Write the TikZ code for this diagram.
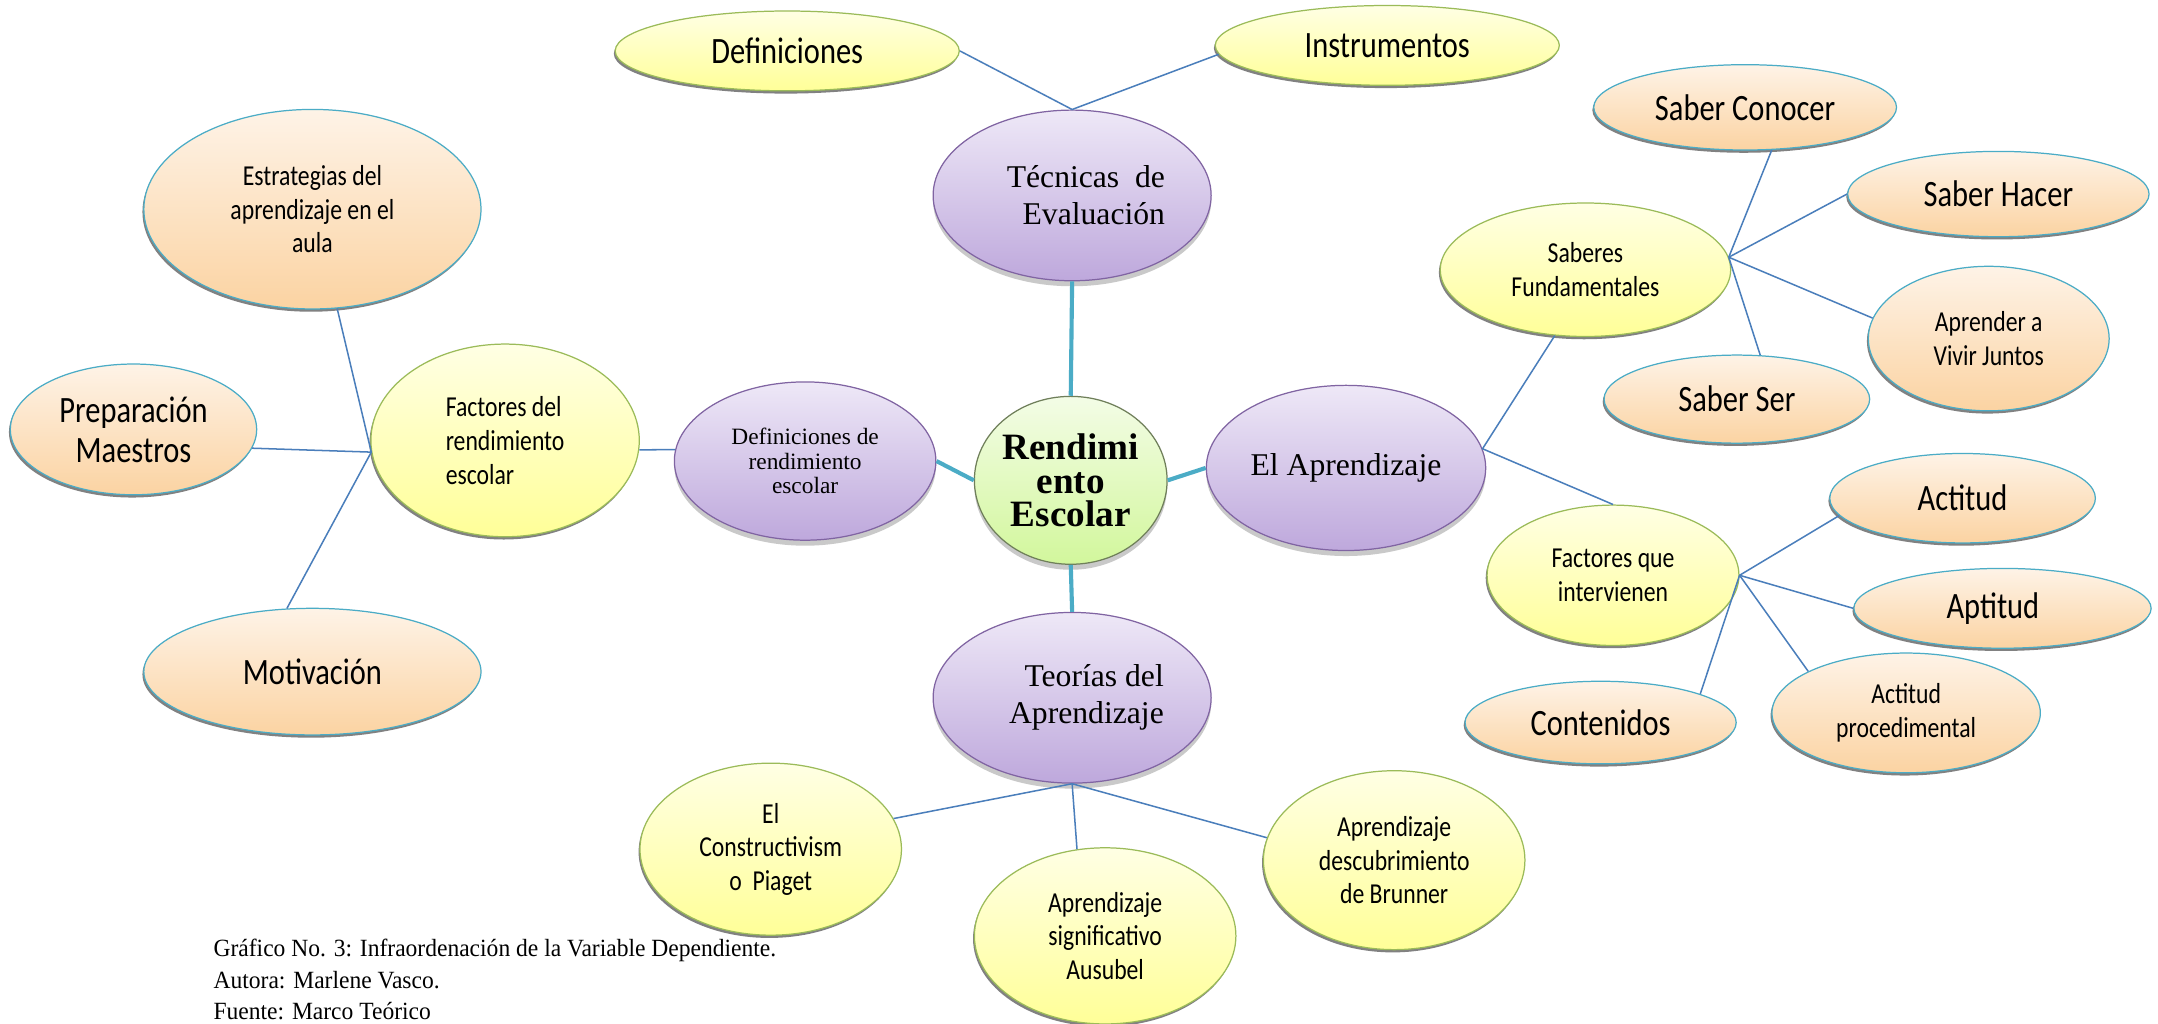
\documentclass[tikz,border=0pt]{standalone}
\usepackage{fontspec}
\setmainfont{Liberation Serif}
\newfontfamily\cf{Carlito}[FakeStretch=0.82]
\newfontfamily\capf{Liberation Serif}[FakeStretch=0.95]
\usetikzlibrary{shapes.geometric,shadows}
\definecolor{ylborder}{HTML}{9BBB59}
\definecolor{yltop}{HTML}{FFFFE4}
\definecolor{ylbot}{HTML}{FFFF98}
\definecolor{orborder}{HTML}{4BACC6}
\definecolor{ortop}{HTML}{FEF3E7}
\definecolor{orbot}{HTML}{FBD3A2}
\definecolor{puborder}{HTML}{8064A2}
\definecolor{putop}{HTML}{EEE8F7}
\definecolor{pubot}{HTML}{BEA8DC}
\definecolor{ceborder}{HTML}{6F7F5A}
\definecolor{cetop}{HTML}{F3FCE6}
\definecolor{cebot}{HTML}{D2F79C}
\definecolor{thinline}{HTML}{4A7EBB}
\definecolor{thickline}{HTML}{4BACC6}
\tikzset{
  base/.style={ellipse, inner sep=0pt, align=center, text=black, line width=0.9pt},
  sz/.style 2 args={minimum width=#1pt, minimum height=#2pt},
  yel/.style={base, draw=ylborder, top color=yltop, bottom color=ylbot,
    drop shadow={shadow xshift=-1pt, shadow yshift=-2pt, fill=black!70, opacity=0.7}},
  ora/.style={base, draw=orborder, top color=ortop, bottom color=orbot,
    drop shadow={shadow xshift=-1pt, shadow yshift=-2pt, fill=black!70, opacity=0.7}},
  pur/.style={base, draw=puborder, top color=putop, bottom color=pubot,
    drop shadow={shadow xshift=0pt, shadow yshift=-4pt, fill=black!35, opacity=0.6}},
  censt/.style={base, draw=ceborder, top color=cetop, bottom color=cebot,
    drop shadow={shadow xshift=0pt, shadow yshift=-4pt, fill=black!35, opacity=0.6}},
  big/.style={font=\cf\fontsize{27}{29}\selectfont},
  sm/.style={font=\cf\fontsize{21}{24.5}\selectfont},
  ser/.style={font=\fontsize{23}{27}\selectfont},
  thin1/.style={draw=thinline, line width=1.1pt},
  thick1/.style={draw=thickline, line width=3pt},
}
\begin{document}
\begin{tikzpicture}[x=1pt,y=-1pt]
\useasboundingbox[fill=white] (0,0) rectangle (1568,744);
% top
\node[yel,sz={250}{58},big] (defi) at (572,37) {Definiciones};
\node[yel,sz={250}{58},big] (instr) at (1008,33) {Instrumentos};
\node[pur,sz={202}{124},ser,align=right] (tec) at (779,142) {\hspace*{20pt}Técnicas\ \ de\\Evaluación};
% centre
\node[censt,sz={140}{122},font=\bfseries\fontsize{27}{24.5}\selectfont] (cen) at (778,349) {Rendimi\\ento\\Escolar};
% bottom
\node[pur,sz={202}{124},ser,align=right] (teo) at (779,507) {\hspace*{32pt}Teorías del\\Aprendizaje};
\node[yel,sz={190}{125},sm] (cons) at (560,617) {El\\Constructivism\\o\ \ Piaget};
\node[yel,sz={190}{128},sm] (ausu) at (803,680) {Aprendizaje\\significativo\\Ausubel};
\node[yel,sz={190}{130},sm] (brun) at (1013,625) {Aprendizaje\\descubrimiento\\de Brunner};
% left
\node[pur,sz={190}{115},font=\fontsize{17}{18}\selectfont] (defr) at (585,335) {Definiciones de\\rendimiento\\escolar};
\node[yel,sz={195}{140},sm,align=left] (facr) at (367,320) {Factores del\\rendimiento\hspace*{26pt}\\escolar};
\node[ora,sz={245}{145},sm] (estr) at (227,152) {Estrategias del\\aprendizaje en el\\aula};
\node[ora,sz={179}{95},big] (prep) at (97,312) {Preparación\\Maestros};
\node[ora,sz={245}{92},big] (moti) at (227,488) {Motivación};
% right
\node[pur,sz={203}{120},ser] (apr) at (978,340) {El Aprendizaje};
\node[yel,sz={211}{97},sm] (sabf) at (1152,196) {Saberes\\Fundamentales};
\node[ora,sz={220}{62},big] (scon) at (1268,78) {Saber Conocer};
\node[ora,sz={219}{62},big] (shac) at (1452,141) {Saber Hacer};
\node[ora,sz={175}{105},sm] (aviv) at (1445,246) {Aprender a\\Vivir Juntos};
\node[ora,sz={193}{64},big] (sser) at (1262,290) {Saber Ser};
\node[yel,sz={183}{102},sm] (fint) at (1172,418) {Factores que\\intervienen};
\node[ora,sz={193}{65},big] (acti) at (1426,362) {Actitud};
\node[ora,sz={216}{58},big] (apti) at (1455,442) {\hspace*{0pt}Aptitud\hspace*{14pt}};
\node[ora,sz={197}{60},big] (cont) at (1163,525) {Contenidos};
\node[ora,sz={195}{87},sm] (aproc) at (1385,518) {Actitud\\procedimental};
% caption
\node[anchor=north west, align=left, inner sep=0pt, font=\capf\fontsize{18}{23}\selectfont] (cap) at (155,682)
  {Gráfico No. 3: Infraordenación de la Variable Dependiente.\\Autora: Marlene Vasco.\\Fuente: Marco Teórico};
% thick connectors
\draw[thick1] (tec.south) -- (cen.north);
\draw[thick1] (cen.south) -- (teo.north);
\draw[thick1] (cen.west) -- (defr.east);
\draw[thick1] (cen.east) -- (apr.west);
% thin connectors
\draw[thin1] (defi.east) -- (tec.north) -- (instr.183);
\draw[thin1] (facr.-4) -- (defr.175);
\coordinate (hf) at (facr.185);
\draw[thin1] (hf) -- (estr.-76);
\draw[thin1] (hf) -- (prep.-9);
\draw[thin1] (hf) -- (moti.112);
\draw[thin1] (sabf.245) -- (apr.8) -- (fint.north);
\coordinate (hs) at (sabf.5);
\draw[thin1] (hs) -- (scon.-58);
\draw[thin1] (hs) -- (shac.west);
\draw[thin1] (hs) -- (aviv.170);
\draw[thin1] (hs) -- (sser.62);
\draw[thin1] (fint.east) -- (acti.188);
\draw[thin1] (fint.east) -- (apti.west);
\draw[thin1] (fint.east) -- (aproc.157);
\draw[thin1] (fint.east) -- (cont.16);
\draw[thin1] (teo.south) -- (cons.14);
\draw[thin1] (teo.south) -- (ausu.108);
\draw[thin1] (teo.south) -- (brun.170);
\end{tikzpicture}
\end{document}
